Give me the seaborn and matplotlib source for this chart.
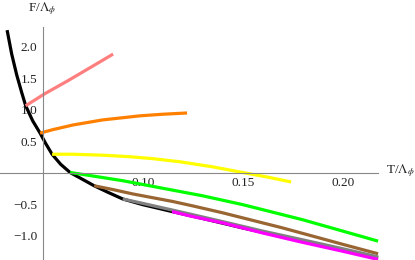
import numpy as np
import pandas as pd
import seaborn as sns
import matplotlib
matplotlib.use("Agg")
import matplotlib.pyplot as plt
from matplotlib.ticker import FixedLocator, FixedFormatter, NullFormatter

# ---- data ----
black_T = [0.0322, 0.0345, 0.037, 0.0395, 0.0415, 0.045, 0.0487, 0.0515, 0.0547, 0.059,
           0.0637, 0.07, 0.0757, 0.083, 0.09, 0.10, 0.1147, 0.13, 0.15, 0.17, 0.19, 0.205, 0.2177]
black_F = [2.26, 1.88, 1.55, 1.27, 1.06, 0.82, 0.625, 0.46, 0.29, 0.13,
           0.0, -0.11, -0.21, -0.32, -0.42, -0.51, -0.62, -0.73, -0.88, -1.02, -1.16, -1.26, -1.355]

pink_T = [0.0415, 0.051, 0.0622, 0.074, 0.0852]
pink_F = [1.06, 1.25, 1.45, 1.67, 1.88]

orange_T = [0.0487, 0.055, 0.0652, 0.08, 0.0987, 0.11, 0.1222]
orange_F = [0.625, 0.68, 0.755, 0.835, 0.90, 0.925, 0.945]

yellow_T = [0.0547, 0.065, 0.08, 0.0937, 0.105, 0.1187, 0.135, 0.15, 0.162, 0.1742]
yellow_F = [0.29, 0.29, 0.275, 0.25, 0.22, 0.17, 0.09, 0.0, -0.07, -0.15]

green_T = [0.0637, 0.07, 0.08, 0.09, 0.10, 0.11, 0.12, 0.13, 0.14, 0.15, 0.16, 0.17, 0.18, 0.19, 0.20, 0.21, 0.2177]
green_F = [0.0, -0.03, -0.08, -0.13, -0.19, -0.25, -0.31, -0.37, -0.44, -0.51, -0.59, -0.67, -0.75, -0.84, -0.93, -1.02, -1.09]

brown_T = [0.0757, 0.085, 0.095, 0.105, 0.115, 0.125, 0.14, 0.155, 0.17, 0.185, 0.20, 0.2177]
brown_F = [-0.21, -0.27, -0.34, -0.40, -0.46, -0.53, -0.64, -0.76, -0.88, -1.01, -1.14, -1.29]

gray_T = [0.090, 0.10, 0.1147, 0.1237, 0.14, 0.16, 0.1787, 0.20, 0.2177]
gray_F = [-0.42, -0.49, -0.595, -0.66, -0.78, -0.93, -1.06, -1.21, -1.34]

magenta_T = [0.1147, 0.1237, 0.14, 0.16, 0.1787, 0.20, 0.2177]
magenta_F = [-0.62, -0.69, -0.80, -0.96, -1.10, -1.25, -1.38]

x_major = [0.10, 0.15, 0.20]
x_major_labels = ["0.10", "0.15", "0.20"]
y_major = [-1.0, -0.5, 0.5, 1.0, 1.5, 2.0]
y_major_labels = ["\u22121.0", "\u22120.5", "0.5", "1.0", "1.5", "2.0"]

# ---- style ----
sns.set_style("white")
plt.rcParams["font.family"] = ["Liberation Serif", "DejaVu Serif"]
plt.rcParams["mathtext.fontset"] = "stix"

W, H = 415, 260
fig = plt.figure(figsize=(W / 100, H / 100), dpi=100)
ax = fig.add_axes([0, 0, 378 / W, (H - 27) / H])

curves = [
    (black_T, black_F, "black"),
    (pink_T, pink_F, "#FF7F7F"),
    (orange_T, orange_F, "#FF8000"),
    (yellow_T, yellow_F, "#FFFF00"),
    (green_T, green_F, "#00FF00"),
    (brown_T, brown_F, "#996633"),
    (gray_T, gray_F, "#808080"),
    (magenta_T, magenta_F, "#FF00FF"),
]
for T, F, c in curves:
    sns.lineplot(x=T, y=F, color=c, linewidth=2.3, ax=ax, estimator=None,
                 solid_capstyle="butt", solid_joinstyle="round", clip_on=False)

ax.set_xlim(0.02865, 0.21765)
ax.set_ylim(-1.389, 2.31)

for s in ["top", "right"]:
    ax.spines[s].set_visible(False)
ax.spines["left"].set_position(("data", 0.05))
ax.spines["bottom"].set_position(("data", 0.0))
for s in ["left", "bottom"]:
    ax.spines[s].set_color("#888888")
    ax.spines[s].set_linewidth(0.8)

ax.xaxis.set_major_locator(FixedLocator(x_major))
ax.xaxis.set_major_formatter(FixedFormatter(x_major_labels))
ax.xaxis.set_minor_locator(FixedLocator([0.03, 0.04, 0.05, 0.06, 0.07, 0.08, 0.09, 0.11, 0.12,
                                         0.13, 0.14, 0.16, 0.17, 0.18, 0.19, 0.21]))
ax.xaxis.set_minor_formatter(NullFormatter())
ax.yaxis.set_major_locator(FixedLocator(y_major))
ax.yaxis.set_major_formatter(FixedFormatter(y_major_labels))
yminor = [v / 10 for v in range(-13, 24) if v % 5 != 0]
ax.yaxis.set_minor_locator(FixedLocator(yminor))
ax.yaxis.set_minor_formatter(NullFormatter())

ax.tick_params(which="both", direction="in", color="#888888", width=0.7)
ax.tick_params(which="major", length=4, labelsize=9.5, labelcolor="#222222")
ax.tick_params(which="minor", length=2)
ax.tick_params(axis="x", which="major", pad=3)
ax.tick_params(axis="y", which="major", pad=4)
ax.set_xlabel("")
ax.set_ylabel("")
ax.grid(False)

fig.text(42 / W, 1 - 9 / H, r"F/$\Lambda_\phi$", ha="center", va="center", fontsize=9.5, color="#222222")
fig.text(386 / W, 1 - 171 / H, r"T/$\Lambda_\phi$", ha="left", va="center", fontsize=9.5, color="#222222")

fig.savefig("out.png", dpi=100)
